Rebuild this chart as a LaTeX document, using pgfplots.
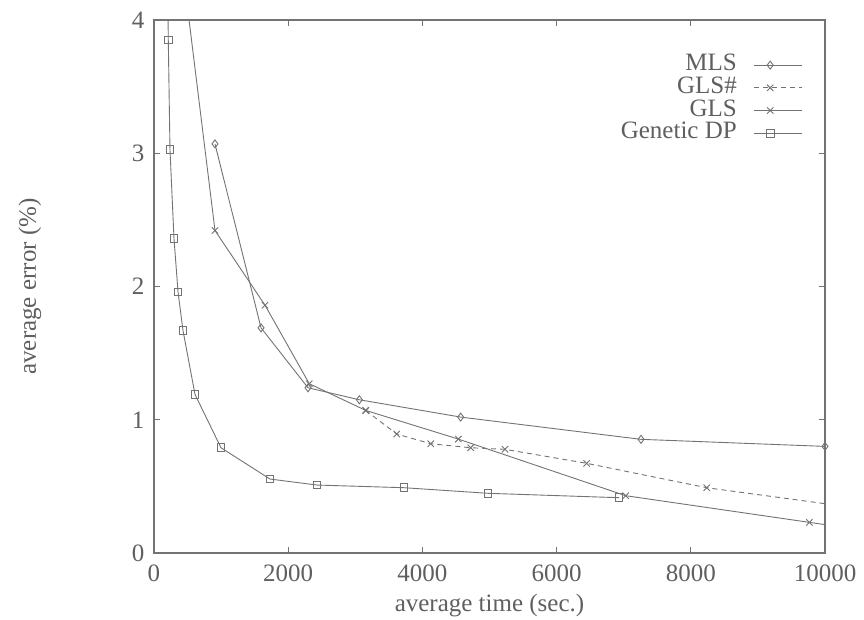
\documentclass[border=0pt]{standalone}
\usepackage{fontspec}
\setmainfont{Liberation Serif}
\usepackage{pgfplots}
\pgfplotsset{compat=1.18}
\definecolor{ln}{RGB}{115,115,115}
\definecolor{tx}{RGB}{95,95,95}
\newcommand{\fsz}{\fontsize{25bp}{29bp}\selectfont}
\begin{document}
\begin{tikzpicture}
\begin{axis}[
 scale only axis, width=671bp, height=533bp,
 xmin=0, xmax=10000, ymin=0, ymax=4,
 xtick={0,2000,4000,6000,8000,10000}, ytick={0,1,2,3,4},
 scaled x ticks=false,
 /pgf/number format/assume math mode=true,
 /pgf/number format/1000 sep={},
 tick align=inside, major tick length=6bp,
 axis line style={ln, line width=1.2bp},
 tick style={ln, line width=1bp},
 tick label style={font=\fsz, text=tx},
 xticklabel style={yshift=-8bp},
 yticklabel style={xshift=-6bp},
 label style={font=\fsz, text=tx},
 xlabel={average time (sec.)},
 ylabel={average error (\%)},
 xlabel style={at={(axis description cs:0.5,-0.098)}, anchor=center},
 ylabel style={at={(axis description cs:-0.185,0.5)}, anchor=center},
 clip mode=individual,
 legend style={draw=none, fill=none, font=\fsz, text=tx,
   at={(rel axis cs:0.967,0.937)}, anchor=north east, inner sep=0pt,
   row sep=0pt, nodes={inner sep=0pt, text height=17bp, text depth=5.7bp},
   /tikz/every odd column/.append style={column sep=17bp}},
 legend cell align=right, legend plot pos=right,
 legend image code/.code={\draw[#1, mark indices={2}] plot coordinates {(0bp,0bp) (16bp,0bp) (48bp,0bp)};},
 every axis plot/.append style={ln, line width=0.9bp},
]
% MLS
\addplot[mark=diamond, mark size=4bp, mark options={solid, fill=white}] coordinates {
 (909,3.07) (1595,1.69) (2295,1.24) (3060,1.15) (4570,1.02) (7258,0.853) (10000,0.80)};
\addlegendentry{MLS}
% GLS#
\addplot[dash pattern=on 5bp off 4bp, no marks, forget plot] coordinates {
 (3155,1.07) (3617,0.893) (4123,0.82) (4719,0.79) (5231,0.778) (6448,0.673) (8237,0.49) (10400,0.343)};
\addplot[only marks, mark=x, mark size=4.5bp, mark options={solid}, forget plot] coordinates {
 (3155,1.07) (3617,0.893) (4123,0.82) (4719,0.79) (5231,0.778) (6448,0.673) (8237,0.49)};
\addlegendimage{ln, line width=0.9bp, dash pattern=on 5bp off 4bp, mark=x, mark size=4.5bp, mark options={solid}}
\addlegendentry{GLS\#}
% GLS
\addplot[no marks, forget plot] coordinates {
 (400,4.50) (909,2.42) (1654,1.86) (2315,1.27) (3155,1.07) (4535,0.855) (7030,0.43) (9766,0.23) (10400,0.184)};
\addplot[only marks, mark=x, mark size=4.5bp, mark options={solid}, forget plot] coordinates {
 (909,2.42) (1654,1.86) (2315,1.27) (3155,1.07) (4535,0.855) (7030,0.43) (9766,0.23)};
\addlegendimage{ln, line width=0.9bp, mark=x, mark size=4.5bp, mark options={solid}}
\addlegendentry{GLS}
% Genetic DP
\addplot[no marks, forget plot] coordinates {
 (205,4.3) (213,3.85) (238,3.03) (298,2.36) (358,1.96) (432,1.67) (611,1.19) (998,0.79) (1729,0.555) (2429,0.51) (3726,0.49) (4978,0.448) (6930,0.415)};
\addplot[only marks, mark=square, mark size=3.8bp, mark options={solid, fill=white}, forget plot] coordinates {
 (213,3.85) (238,3.03) (298,2.36) (358,1.96) (432,1.67) (611,1.19) (998,0.79) (1729,0.555) (2429,0.51) (3726,0.49) (4978,0.448) (6930,0.415)};
\addlegendimage{ln, line width=0.9bp, mark=square, mark size=3.8bp, mark options={solid, fill=white}}
\addlegendentry{Genetic DP}
\end{axis}
\path (current axis.south west) ++(-154bp,-67bp) rectangle ++(864bp,620bp);
\end{tikzpicture}
\end{document}
